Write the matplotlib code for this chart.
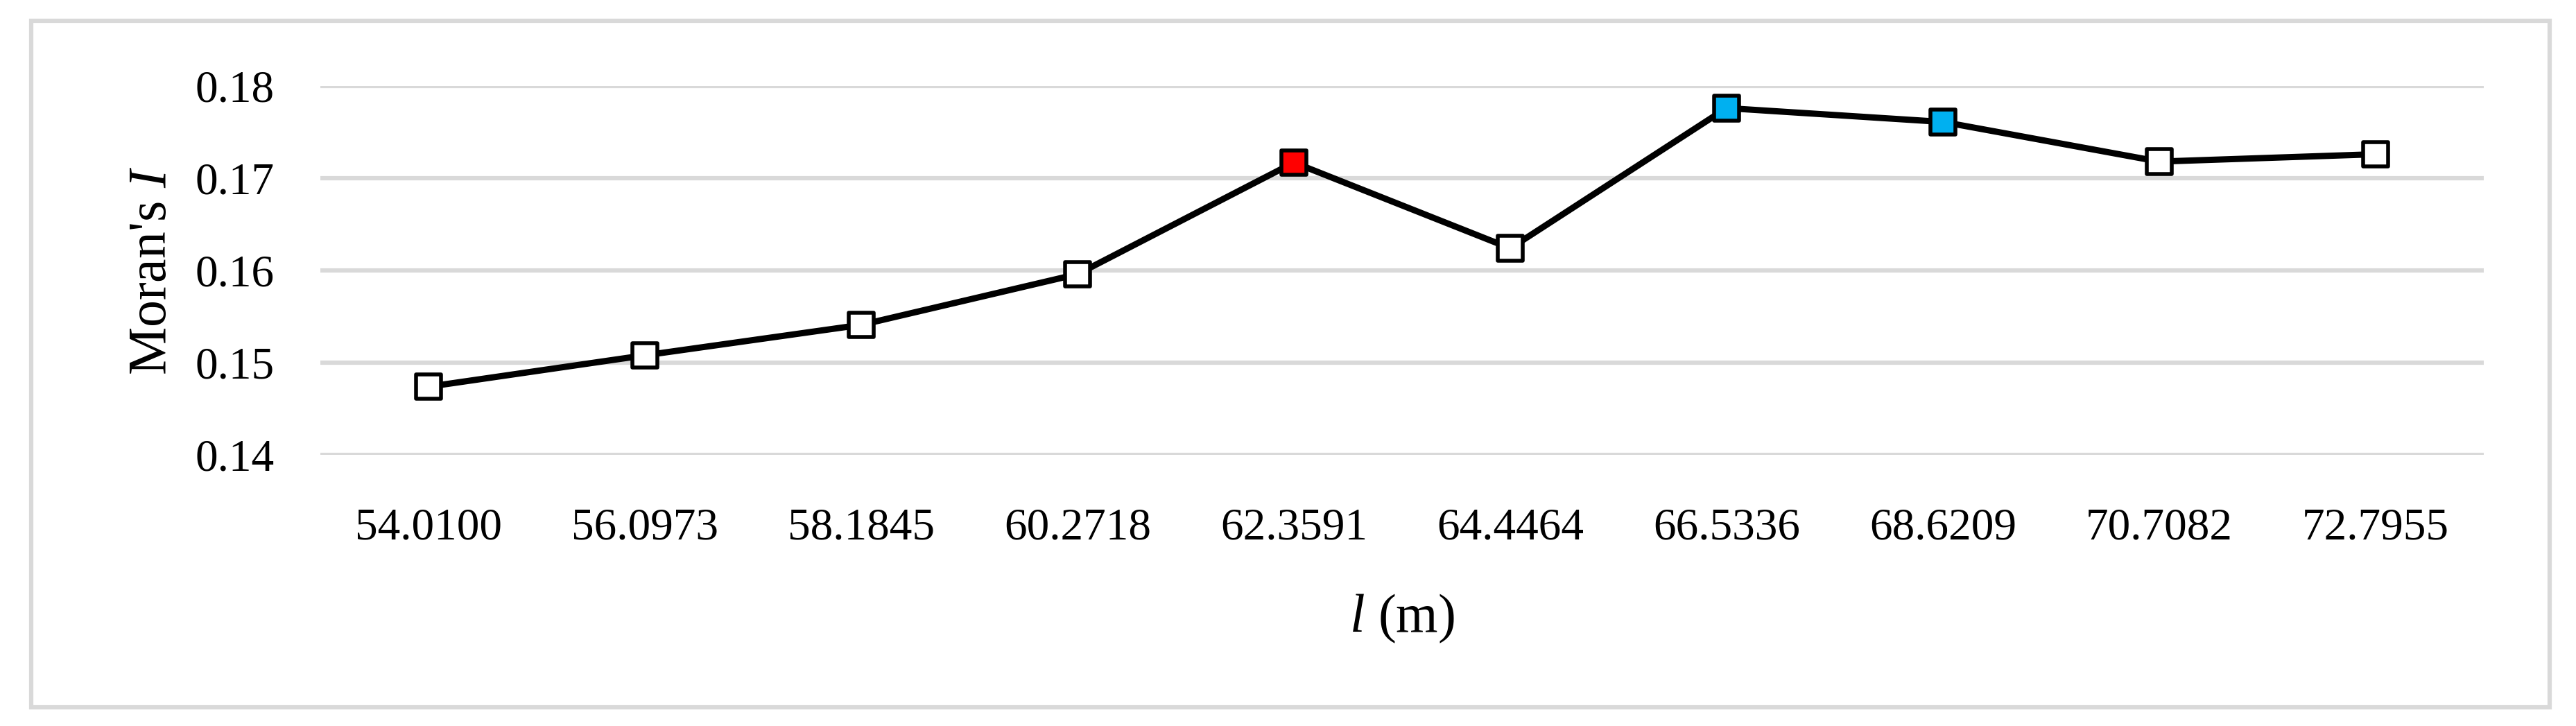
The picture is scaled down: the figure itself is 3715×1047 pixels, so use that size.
import matplotlib.pyplot as plt
from matplotlib.patches import Rectangle

# data
lengths = ['54.0100', '56.0973', '58.1845', '60.2718', '62.3591',
           '64.4464', '66.5336', '68.6209', '70.7082', '72.7955']
morans_i = [0.1474, 0.1508, 0.1541, 0.1596, 0.1717,
            0.1624, 0.1776, 0.1761, 0.1718, 0.1726]
y_ticks = [0.14, 0.15, 0.16, 0.17, 0.18]

# marker fill: red for the peak, blue for the two high points
fill_colors = ['white'] * len(lengths)
fill_colors[4] = '#FF0000'
fill_colors[6] = '#00B0F0'
fill_colors[7] = '#00B0F0'

plt.rcParams['font.family'] = 'Liberation Serif'
plt.rcParams['mathtext.fontset'] = 'custom'
plt.rcParams['mathtext.rm'] = 'Liberation Serif'
plt.rcParams['mathtext.it'] = 'Liberation Serif:italic'

fig = plt.figure(figsize=(37.15, 10.47), dpi=100)
ax = fig.add_axes([0.1244, 0.3734, 0.8398, 0.5082])

x = list(range(len(lengths)))
ax.plot(x, morans_i, color='black', linewidth=6.5, zorder=3)
ax.scatter(x, morans_i, marker='s', s=650, c=fill_colors,
           edgecolors='black', linewidths=4, zorder=4)

ax.set_xlim(-0.5, len(lengths) - 0.5)
ax.set_ylim(0.14, 0.18)
ax.set_yticks(y_ticks)
ax.set_yticklabels(['%.2f' % v for v in y_ticks])
ax.set_xticks(x)
ax.set_xticklabels(lengths)
ax.tick_params(length=0, labelsize=47)
ax.tick_params(axis='y', pad=48)
ax.tick_params(axis='x', pad=55)

ax.grid(axis='y', color='#D9D9D9', linewidth=4.5, zorder=0)
ax.set_axisbelow(True)
for s in ax.spines.values():
    s.set_visible(False)

ax.set_ylabel("Moran's $I$", fontsize=56, labelpad=18)
ax.set_xlabel('$l$ (m)', fontsize=56, labelpad=45)

# outer chart frame
fig.patches.append(Rectangle((45 / 3715, 1 - 1020 / 1047), 3632 / 3715, 990 / 1047,
                             transform=fig.transFigure, fill=False,
                             edgecolor='#D9D9D9', linewidth=4.5))

fig.savefig('out.png', dpi=100)
